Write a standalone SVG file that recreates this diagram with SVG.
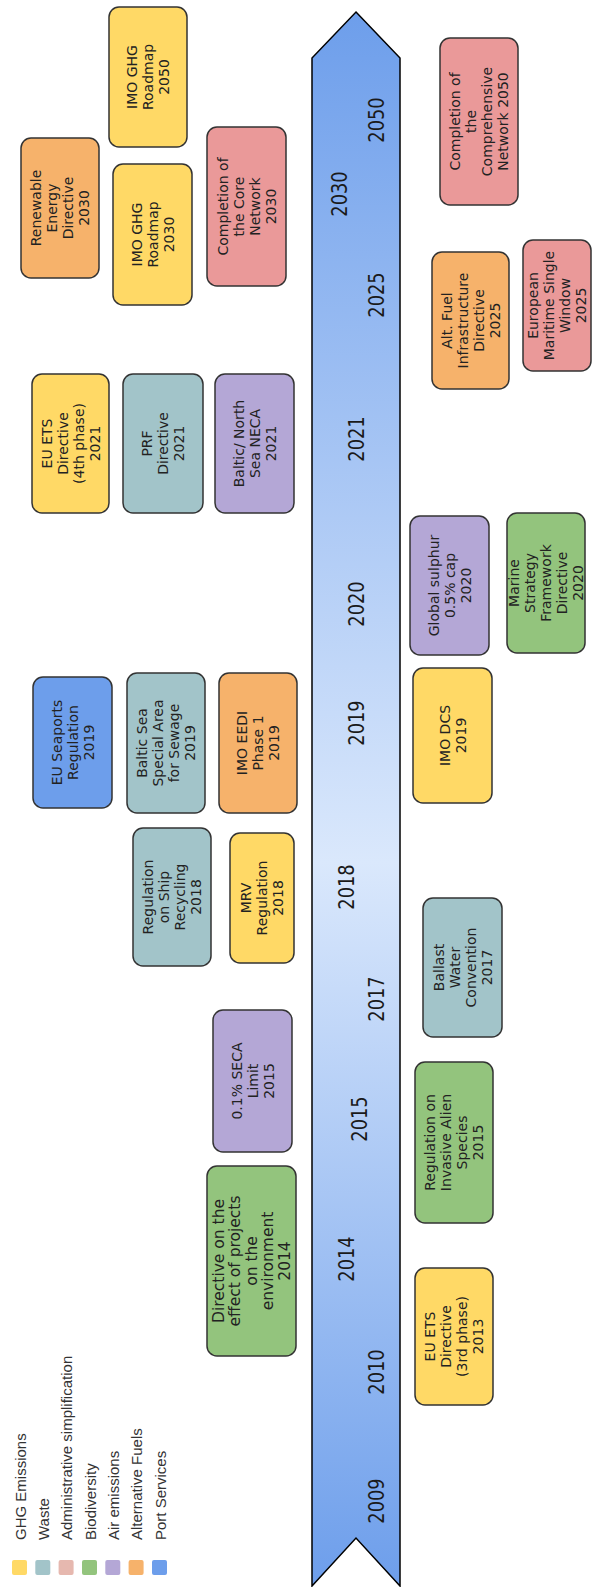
<svg xmlns="http://www.w3.org/2000/svg" width="593" height="1587" viewBox="0 0 593 1587">
<defs>
<linearGradient id="arrowGrad" x1="0" y1="0" x2="0" y2="1">
<stop offset="0" stop-color="#6d9eeb"/>
<stop offset="0.54" stop-color="#dae8fc"/>
<stop offset="1" stop-color="#6d9eeb"/>
</linearGradient>
<style>
.box{stroke:#333333;stroke-width:1.5}
.ghg{fill:#ffd966}.waste{fill:#a2c4c9}.admin{fill:#ea9999}.bio{fill:#93c47d}.air{fill:#b4a7d6}.fuel{fill:#f6b26b}.port{fill:#6d9eeb}
.lbl{font-family:"DejaVu Sans",Verdana,sans-serif;font-size:14px;fill:#222222;text-anchor:middle}
.big{font-size:15.5px}
.yr{font-family:"DejaVu Sans",Verdana,sans-serif;font-size:21px;fill:#1a1a1a;text-anchor:middle}
.leg{font-family:"Liberation Sans",Arial,sans-serif;font-size:15px;fill:#333333}
</style>
</defs>
<rect width="593" height="1587" fill="#ffffff"/>
<g id="timeline">
<path d="M356,12 L400,58 L400,1586 L356,1538 L312,1586 L312,58 Z" fill="url(#arrowGrad)" stroke="#000000" stroke-width="1.5"/>
<text class="yr" transform="translate(376,120) rotate(-90) scale(0.85,1)" y="7.5">2050</text>
<text class="yr" transform="translate(339,194) rotate(-90) scale(0.85,1)" y="7.5">2030</text>
<text class="yr" transform="translate(376,295) rotate(-90) scale(0.85,1)" y="7.5">2025</text>
<text class="yr" transform="translate(356,439) rotate(-90) scale(0.85,1)" y="7.5">2021</text>
<text class="yr" transform="translate(356,604) rotate(-90) scale(0.85,1)" y="7.5">2020</text>
<text class="yr" transform="translate(356,723) rotate(-90) scale(0.85,1)" y="7.5">2019</text>
<text class="yr" transform="translate(346,887) rotate(-90) scale(0.85,1)" y="7.5">2018</text>
<text class="yr" transform="translate(376,999) rotate(-90) scale(0.85,1)" y="7.5">2017</text>
<text class="yr" transform="translate(359,1119) rotate(-90) scale(0.85,1)" y="7.5">2015</text>
<text class="yr" transform="translate(346,1259) rotate(-90) scale(0.85,1)" y="7.5">2014</text>
<text class="yr" transform="translate(376,1372) rotate(-90) scale(0.85,1)" y="7.5">2010</text>
<text class="yr" transform="translate(376,1501) rotate(-90) scale(0.85,1)" y="7.5">2009</text>
</g>
<g id="connectors"></g>
<g id="n1"><rect class="box ghg" x="109" y="7" width="78" height="140" rx="10"/><text class="lbl" transform="translate(148,77) rotate(-90)"><tspan x="0" y="-11">IMO GHG</tspan><tspan x="0" y="5">Roadmap</tspan><tspan x="0" y="21">2050</tspan></text></g>
<g id="n2"><rect class="box fuel" x="21" y="138" width="78" height="140" rx="10"/><text class="lbl" transform="translate(60,208) rotate(-90)"><tspan x="0" y="-19">Renewable</tspan><tspan x="0" y="-3">Energy</tspan><tspan x="0" y="13">Directive</tspan><tspan x="0" y="29">2030</tspan></text></g>
<g id="n3"><rect class="box ghg" x="113" y="164" width="79" height="141" rx="10"/><text class="lbl" transform="translate(152.5,234.5) rotate(-90)"><tspan x="0" y="-11">IMO GHG</tspan><tspan x="0" y="5">Roadmap</tspan><tspan x="0" y="21">2030</tspan></text></g>
<g id="n4"><rect class="box admin" x="207" y="127" width="79" height="159" rx="10"/><text class="lbl" transform="translate(246.5,206.5) rotate(-90)"><tspan x="0" y="-19">Completion of</tspan><tspan x="0" y="-3">the Core</tspan><tspan x="0" y="13">Network</tspan><tspan x="0" y="29">2030</tspan></text></g>
<g id="n5"><rect class="box admin" x="440" y="38" width="78" height="167" rx="10"/><text class="lbl" transform="translate(479,121.5) rotate(-90)"><tspan x="0" y="-19">Completion of</tspan><tspan x="0" y="-3">the</tspan><tspan x="0" y="13">Comprehensive</tspan><tspan x="0" y="29">Network 2050</tspan></text></g>
<g id="n6"><rect class="box fuel" x="432" y="252" width="77" height="137" rx="10"/><text class="lbl" transform="translate(470.5,320.5) rotate(-90)"><tspan x="0" y="-19">Alt. Fuel</tspan><tspan x="0" y="-3">Infrastructure</tspan><tspan x="0" y="13">Directive</tspan><tspan x="0" y="29">2025</tspan></text></g>
<g id="n7"><rect class="box admin" x="523" y="240" width="68" height="131" rx="10"/><text class="lbl" transform="translate(557,305.5) rotate(-90)"><tspan x="0" y="-19">European</tspan><tspan x="0" y="-3">Maritime Single</tspan><tspan x="0" y="13">Window</tspan><tspan x="0" y="29">2025</tspan></text></g>
<g id="n8"><rect class="box ghg" x="32" y="374" width="77" height="139" rx="10"/><text class="lbl" transform="translate(70.5,443.5) rotate(-90)"><tspan x="0" y="-19">EU ETS</tspan><tspan x="0" y="-3">Directive</tspan><tspan x="0" y="13">(4th phase)</tspan><tspan x="0" y="29">2021</tspan></text></g>
<g id="n9"><rect class="box waste" x="123" y="374" width="80" height="139" rx="10"/><text class="lbl" transform="translate(163,443.5) rotate(-90)"><tspan x="0" y="-11">PRF</tspan><tspan x="0" y="5">Directive</tspan><tspan x="0" y="21">2021</tspan></text></g>
<g id="n10"><rect class="box air" x="215" y="374" width="79" height="139" rx="10"/><text class="lbl" transform="translate(254.5,443.5) rotate(-90)"><tspan x="0" y="-11">Baltic/ North</tspan><tspan x="0" y="5">Sea NECA</tspan><tspan x="0" y="21">2021</tspan></text></g>
<g id="n11"><rect class="box air" x="410" y="516" width="79" height="139" rx="10"/><text class="lbl" transform="translate(449.5,585.5) rotate(-90)"><tspan x="0" y="-11">Global sulphur</tspan><tspan x="0" y="5">0.5% cap</tspan><tspan x="0" y="21">2020</tspan></text></g>
<g id="n12"><rect class="box bio" x="507" y="513" width="78" height="140" rx="10"/><text class="lbl" transform="translate(546,583) rotate(-90)"><tspan x="0" y="-27">Marine</tspan><tspan x="0" y="-11">Strategy</tspan><tspan x="0" y="5">Framework</tspan><tspan x="0" y="21">Directive</tspan><tspan x="0" y="37">2020</tspan></text></g>
<g id="n13"><rect class="box ghg" x="413" y="668" width="79" height="135" rx="10"/><text class="lbl" transform="translate(452.5,735.5) rotate(-90)"><tspan x="0" y="-3">IMO DCS</tspan><tspan x="0" y="13">2019</tspan></text></g>
<g id="n14"><rect class="box port" x="33" y="677" width="79" height="131" rx="10"/><text class="lbl" transform="translate(72.5,742.5) rotate(-90)"><tspan x="0" y="-11">EU Seaports</tspan><tspan x="0" y="5">Regulation</tspan><tspan x="0" y="21">2019</tspan></text></g>
<g id="n15"><rect class="box waste" x="127" y="673" width="78" height="140" rx="10"/><text class="lbl" transform="translate(166,743) rotate(-90)"><tspan x="0" y="-19">Baltic Sea</tspan><tspan x="0" y="-3">Special Area</tspan><tspan x="0" y="13">for Sewage</tspan><tspan x="0" y="29">2019</tspan></text></g>
<g id="n16"><rect class="box fuel" x="219" y="673" width="78" height="140" rx="10"/><text class="lbl" transform="translate(258,743) rotate(-90)"><tspan x="0" y="-11">IMO EEDI</tspan><tspan x="0" y="5">Phase 1</tspan><tspan x="0" y="21">2019</tspan></text></g>
<g id="n17"><rect class="box waste" x="133" y="828" width="78" height="138" rx="10"/><text class="lbl" transform="translate(172,897) rotate(-90)"><tspan x="0" y="-19">Regulation</tspan><tspan x="0" y="-3">on Ship</tspan><tspan x="0" y="13">Recycling</tspan><tspan x="0" y="29">2018</tspan></text></g>
<g id="n18"><rect class="box ghg" x="230" y="833" width="64" height="130" rx="10"/><text class="lbl" transform="translate(262,898) rotate(-90)"><tspan x="0" y="-11">MRV</tspan><tspan x="0" y="5">Regulation</tspan><tspan x="0" y="21">2018</tspan></text></g>
<g id="n19"><rect class="box air" x="213" y="1010" width="79" height="142" rx="10"/><text class="lbl" transform="translate(252.5,1081) rotate(-90)"><tspan x="0" y="-11">0.1% SECA</tspan><tspan x="0" y="5">Limit</tspan><tspan x="0" y="21">2015</tspan></text></g>
<g id="n20"><rect class="box bio" x="207" y="1166" width="89" height="190" rx="10"/><text class="lbl big" transform="translate(251.5,1261) rotate(-90)"><tspan x="0" y="-28">Directive on the</tspan><tspan x="0" y="-11.5">effect of projects</tspan><tspan x="0" y="5">on the</tspan><tspan x="0" y="21.5">environment</tspan><tspan x="0" y="38">2014</tspan></text></g>
<g id="n21"><rect class="box waste" x="423" y="898" width="79" height="139" rx="10"/><text class="lbl" transform="translate(462.5,967.5) rotate(-90)"><tspan x="0" y="-19">Ballast</tspan><tspan x="0" y="-3">Water</tspan><tspan x="0" y="13">Convention</tspan><tspan x="0" y="29">2017</tspan></text></g>
<g id="n22"><rect class="box bio" x="415" y="1062" width="78" height="161" rx="10"/><text class="lbl" transform="translate(454,1142.5) rotate(-90)"><tspan x="0" y="-19">Regulation on</tspan><tspan x="0" y="-3">Invasive Alien</tspan><tspan x="0" y="13">Species</tspan><tspan x="0" y="29">2015</tspan></text></g>
<g id="n23"><rect class="box ghg" x="415" y="1268" width="78" height="137" rx="10"/><text class="lbl" transform="translate(454,1336.5) rotate(-90)"><tspan x="0" y="-19">EU ETS</tspan><tspan x="0" y="-3">Directive</tspan><tspan x="0" y="13">(3rd phase)</tspan><tspan x="0" y="29">2013</tspan></text></g>
<g id="legend">
<rect class="ghg" x="12" y="1560" width="15" height="15" rx="2"/>
<rect class="waste" x="35.3" y="1560" width="15" height="15" rx="2"/>
<rect fill="#e6b8af" x="58.6" y="1560" width="15" height="15" rx="2"/>
<rect class="bio" x="82" y="1560" width="15" height="15" rx="2"/>
<rect class="air" x="105.3" y="1560" width="15" height="15" rx="2"/>
<rect class="fuel" x="128.6" y="1560" width="15" height="15" rx="2"/>
<rect class="port" x="152" y="1560" width="15" height="15" rx="2"/>
<text class="leg" transform="translate(25.5,1540) rotate(-90)">GHG Emissions</text>
<text class="leg" transform="translate(48.8,1540) rotate(-90)">Waste</text>
<text class="leg" transform="translate(72.1,1540) rotate(-90)">Administrative simplification</text>
<text class="leg" transform="translate(95.5,1540) rotate(-90)">Biodiversity</text>
<text class="leg" transform="translate(118.8,1540) rotate(-90)">Air emissions</text>
<text class="leg" transform="translate(142.1,1540) rotate(-90)">Alternative Fuels</text>
<text class="leg" transform="translate(165.5,1540) rotate(-90)">Port Services</text>
</g>
</svg>
